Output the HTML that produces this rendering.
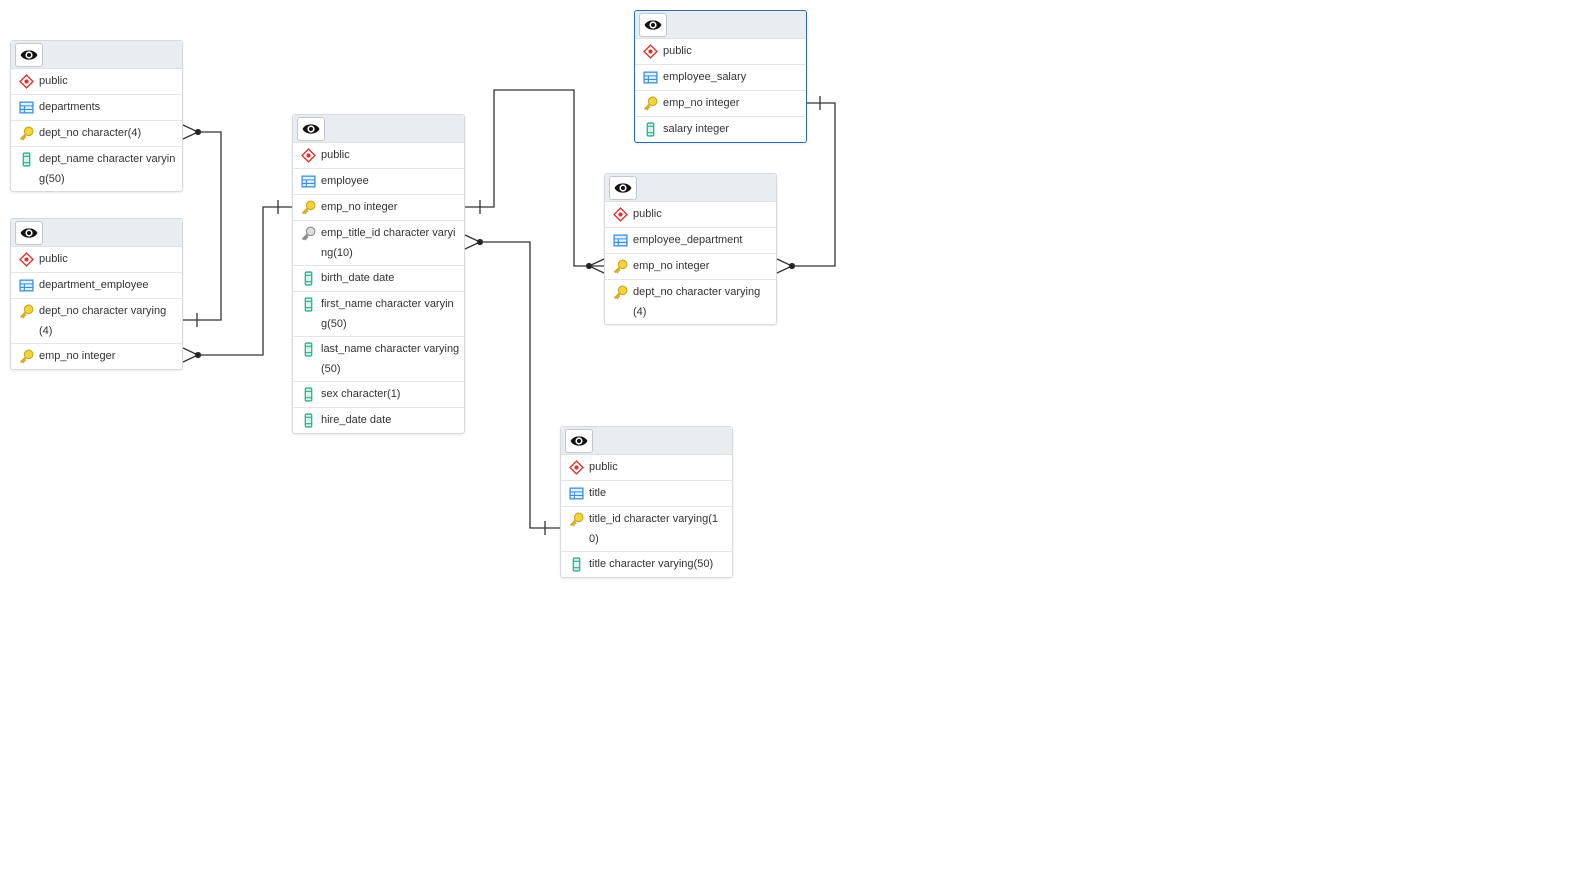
<!DOCTYPE html>
<html><head><meta charset="utf-8"><style>
body{margin:0;width:1584px;height:890px;background:#fff;position:relative;overflow:hidden;font-family:"Liberation Sans",sans-serif;font-size:11px;color:#333}
.t{position:absolute;width:171px;border:1px solid #d6d9de;border-radius:3px;background:#fff;box-shadow:0 1px 2px rgba(0,0,0,.08)}
.t.sel{border-color:#2a6cad}
.h{height:27px;background:#e9ecf1;border-bottom:1px solid #dde0e4;position:relative;border-radius:3px 3px 0 0}
.eye{position:absolute;left:4px;top:2px;width:26px;height:22px;border:1px solid #c4c8ce;border-radius:3px;background:#fff}
.eye svg{position:absolute;left:4px;top:4px}
.r{height:25px;border-bottom:1px solid #e3e5e8;position:relative;line-height:25px;padding-left:28px;white-space:nowrap}
.r.d{line-height:20px;padding-top:2px;height:42px}
.r:last-child{border-bottom:none}
.r svg{position:absolute;left:8px;top:5px}
</style></head><body>
<svg width="0" height="0" style="position:absolute"><defs>
<symbol id="sch" viewBox="0 0 14 14"><path d="M7 1L13 7L7 13L1 7Z" fill="none" stroke="#d33" stroke-width="1.3"/><circle cx="7" cy="7" r="2" fill="#d33"/></symbol>
<symbol id="tbl" viewBox="0 0 14 14"><rect x="1" y="2" width="12" height="10" fill="#e3f0fb" stroke="#3b8fd8" stroke-width="1.2"/><path d="M1 5.5H13M1 8.8H13M5 5.5V12" stroke="#3b8fd8" stroke-width="1"/></symbol>
<symbol id="key" viewBox="0 0 14 14"><circle cx="9" cy="5" r="4" fill="#f5d33c" stroke="#c9a21a"/><path d="M6.5 7.5L1.5 12.5M3 11L4.8 12.8M4.6 9.4L6.3 11.1" stroke="#d4ac20" stroke-width="2"/></symbol>
<symbol id="gkey" viewBox="0 0 14 14"><circle cx="9" cy="5" r="4" fill="#ddd" stroke="#888"/><path d="M6.5 7.5L1.5 12.5M3 11L4.8 12.8M4.6 9.4L6.3 11.1" stroke="#888" stroke-width="2"/></symbol>
<symbol id="col" viewBox="0 0 14 14"><rect x="4" y="1" width="6" height="12" rx="1" fill="#d8f3ec" stroke="#2bb08e" stroke-width="1.2"/><path d="M4 4H10M4 10H10" stroke="#2bb08e"/></symbol>
<symbol id="ey" viewBox="0 0 16 12"><path d="M0.5 6C3 0.5 13 0.5 15.5 6C13 11.5 3 11.5 0.5 6Z" fill="#111"/><circle cx="8" cy="6" r="3.2" fill="#fff"/><circle cx="8" cy="6" r="1.8" fill="#111"/></symbol>
</defs></svg>

<div class="t" style="left:10px;top:40px">
<div class="h"><div class="eye"><svg width="18" height="14"><use href="#ey"/></svg></div></div>
<div class="r"><svg width="15" height="15"><use href="#sch"/></svg>public</div>
<div class="r"><svg width="15" height="15"><use href="#tbl"/></svg>departments</div>
<div class="r"><svg width="15" height="15"><use href="#key"/></svg>dept_no character(4)</div>
<div class="r d"><svg width="15" height="15"><use href="#col"/></svg>dept_name character varyin<br>g(50)</div>
</div>

<div class="t" style="left:10px;top:218px">
<div class="h"><div class="eye"><svg width="18" height="14"><use href="#ey"/></svg></div></div>
<div class="r"><svg width="15" height="15"><use href="#sch"/></svg>public</div>
<div class="r"><svg width="15" height="15"><use href="#tbl"/></svg>department_employee</div>
<div class="r d"><svg width="15" height="15"><use href="#key"/></svg>dept_no character varying<br>(4)</div>
<div class="r"><svg width="15" height="15"><use href="#key"/></svg>emp_no integer</div>
</div>

<div class="t" style="left:292px;top:114px">
<div class="h"><div class="eye"><svg width="18" height="14"><use href="#ey"/></svg></div></div>
<div class="r"><svg width="15" height="15"><use href="#sch"/></svg>public</div>
<div class="r"><svg width="15" height="15"><use href="#tbl"/></svg>employee</div>
<div class="r"><svg width="15" height="15"><use href="#key"/></svg>emp_no integer</div>
<div class="r d"><svg width="15" height="15"><use href="#gkey"/></svg>emp_title_id character varyi<br>ng(10)</div>
<div class="r"><svg width="15" height="15"><use href="#col"/></svg>birth_date date</div>
<div class="r d"><svg width="15" height="15"><use href="#col"/></svg>first_name character varyin<br>g(50)</div>
<div class="r d"><svg width="15" height="15"><use href="#col"/></svg>last_name character varying<br>(50)</div>
<div class="r"><svg width="15" height="15"><use href="#col"/></svg>sex character(1)</div>
<div class="r"><svg width="15" height="15"><use href="#col"/></svg>hire_date date</div>
</div>

<div class="t sel" style="left:634px;top:10px">
<div class="h"><div class="eye"><svg width="18" height="14"><use href="#ey"/></svg></div></div>
<div class="r"><svg width="15" height="15"><use href="#sch"/></svg>public</div>
<div class="r"><svg width="15" height="15"><use href="#tbl"/></svg>employee_salary</div>
<div class="r"><svg width="15" height="15"><use href="#key"/></svg>emp_no integer</div>
<div class="r"><svg width="15" height="15"><use href="#col"/></svg>salary integer</div>
</div>

<div class="t" style="left:604px;top:173px">
<div class="h"><div class="eye"><svg width="18" height="14"><use href="#ey"/></svg></div></div>
<div class="r"><svg width="15" height="15"><use href="#sch"/></svg>public</div>
<div class="r"><svg width="15" height="15"><use href="#tbl"/></svg>employee_department</div>
<div class="r"><svg width="15" height="15"><use href="#key"/></svg>emp_no integer</div>
<div class="r d"><svg width="15" height="15"><use href="#key"/></svg>dept_no character varying<br>(4)</div>
</div>

<div class="t" style="left:560px;top:426px">
<div class="h"><div class="eye"><svg width="18" height="14"><use href="#ey"/></svg></div></div>
<div class="r"><svg width="15" height="15"><use href="#sch"/></svg>public</div>
<div class="r"><svg width="15" height="15"><use href="#tbl"/></svg>title</div>
<div class="r d"><svg width="15" height="15"><use href="#key"/></svg>title_id character varying(1<br>0)</div>
<div class="r"><svg width="15" height="15"><use href="#col"/></svg>title character varying(50)</div>
</div>

<svg width="1584" height="890" style="position:absolute;left:0;top:0;pointer-events:none" fill="none" stroke="#333" stroke-width="1.3">
<path d="M183 125L198 132L183 139M198 132H221V320H183M197 313V327"/>
<circle cx="198" cy="132" r="2.5" fill="#222"/>
<path d="M183 348L198 355L183 362M198 355H263V207H292M278 200V214"/>
<circle cx="198" cy="355" r="2.5" fill="#222"/>
<path d="M465 207H494V90H574V266H604M480 200V214M604 259L589 266L604 273"/>
<circle cx="589" cy="266" r="2.5" fill="#222"/>
<path d="M465 235L480 242L465 249M480 242H530V528H560M545 521V535"/>
<circle cx="480" cy="242" r="2.5" fill="#222"/>
<path d="M807 103H835V266H792M820 96V110M777 259L792 266L777 273"/>
<circle cx="792" cy="266" r="2.5" fill="#222"/>
</svg>
</body></html>
